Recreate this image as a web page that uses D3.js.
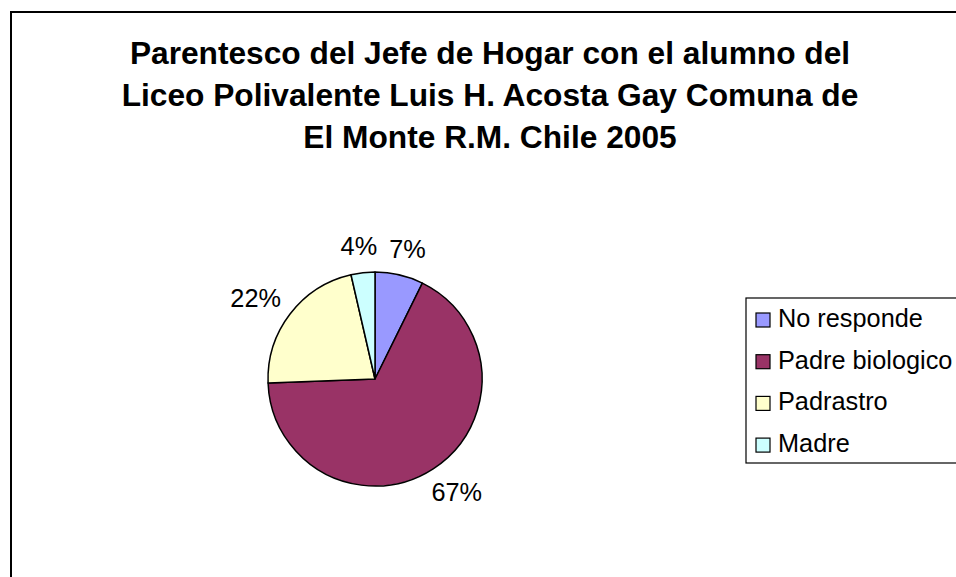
<!DOCTYPE html>
<html>
  <head>
    <meta charset="utf-8">
    <script src="https://d3js.org/d3.v7.min.js"></script>
    <style>
      body { margin: 0; background: #fff; }
      svg { display: block; font-family: "Liberation Sans", Arial, sans-serif; }
    </style>
  </head>
  <body>
    <div id="chart"></div>
    <script>
      const titleLines = [
        "Parentesco del Jefe de Hogar con el alumno del",
        "Liceo Polivalente Luis H. Acosta Gay Comuna de",
        "El Monte R.M. Chile 2005"
      ];
      const categories = ["No responde", "Padre biologico", "Padrastro", "Madre"];
      const values = [7.3, 67.1, 22.0, 3.6];
      const colors = ["#9999FF", "#993366", "#FFFFCC", "#CCFFFF"];

      const width = 956;
      const height = 577;

      const svg = d3.select("#chart")
        .append("svg")
        .attr("width", width)
        .attr("height", height);

      // chart area border (runs off the right and bottom edges)
      svg.append("rect")
        .attr("x", 11)
        .attr("y", 12)
        .attr("width", width + 20)
        .attr("height", height + 20)
        .attr("fill", "#fff")
        .attr("stroke", "#000")
        .attr("stroke-width", 2);

      svg.append("g")
        .selectAll("text")
        .data(titleLines)
        .join("text")
        .attr("x", 490)
        .attr("y", (d, i) => 64 + i * 42)
        .attr("text-anchor", "middle")
        .attr("font-size", 31.7)
        .attr("font-weight", "bold")
        .text(d => d);

      const cx = 375, cy = 379, r = 107;
      const total = d3.sum(values);

      const pie = d3.pie().sort(null).value(d => d)(values);
      const arc = d3.arc().innerRadius(0).outerRadius(r);

      const g = svg.append("g").attr("transform", `translate(${cx},${cy})`);

      g.selectAll("path")
        .data(pie)
        .join("path")
        .attr("d", arc)
        .attr("fill", (d, i) => colors[i])
        .attr("stroke", "#000")
        .attr("stroke-width", 1.5)
        .attr("stroke-linejoin", "round");

      // percentage labels just outside the slice, pushed out by half the text box
      const fs = 25.3;
      const cap = fs * 0.716;
      const gap = 18;
      g.selectAll("text.pct")
        .data(pie)
        .join("text")
        .attr("class", "pct")
        .attr("font-size", fs)
        .attr("text-anchor", "middle")
        .text(d => Math.round(d.value / total * 100) + "%")
        .each(function (d) {
          const a = (d.startAngle + d.endAngle) / 2;
          const w = this.getComputedTextLength();
          const px = Math.sin(a) * (r + gap) + Math.sin(a) * w / 2;
          const py = -Math.cos(a) * (r + gap) - Math.cos(a) * cap / 2;
          d3.select(this).attr("x", px).attr("y", py + cap / 2);
        });

      // legend
      const legend = svg.append("g");
      legend.append("rect")
        .attr("x", 746)
        .attr("y", 298)
        .attr("width", 260)
        .attr("height", 165)
        .attr("fill", "#fff")
        .attr("stroke", "#000")
        .attr("stroke-width", 1.2);

      const item = legend.selectAll("g.item")
        .data(categories)
        .join("g")
        .attr("class", "item")
        .attr("transform", (d, i) => `translate(0,${327 + i * 41.7})`);

      item.append("rect")
        .attr("x", 756)
        .attr("y", -14)
        .attr("width", 14)
        .attr("height", 14)
        .attr("fill", (d, i) => colors[i])
        .attr("stroke", "#000")
        .attr("stroke-width", 1.2);

      item.append("text")
        .attr("x", 778)
        .attr("y", 0)
        .attr("font-size", fs)
        .text(d => d);
    </script>
  </body>
</html>
